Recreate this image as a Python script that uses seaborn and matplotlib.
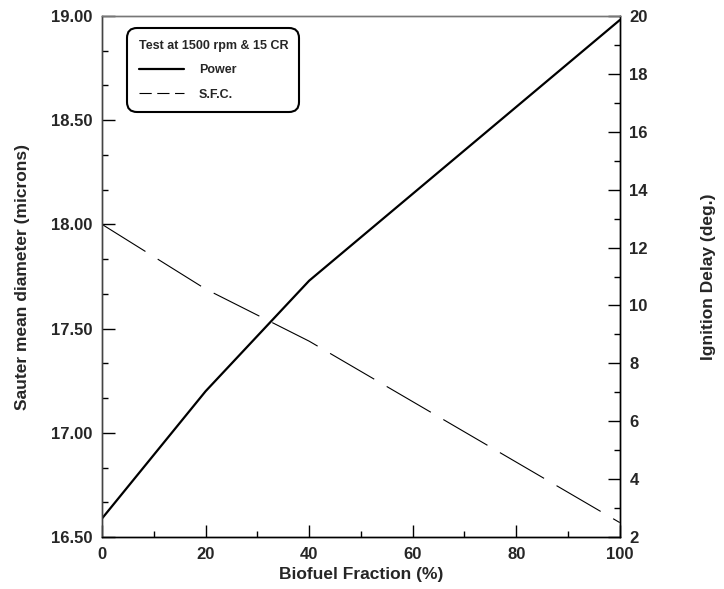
import matplotlib
matplotlib.use("Agg")
import matplotlib.pyplot as plt
from matplotlib.lines import Line2D
from matplotlib.ticker import MultipleLocator, FormatStrFormatter
import seaborn as sns
import pandas as pd

# Data
biofuel_fraction = [0, 20, 40, 100]
power_values = [16.59, 17.20, 17.73, 18.98]
sfc_values = [18.00, 17.69, 17.44, 16.57]
series_names = ["Power", "S.F.C."]
legend_title = "Test at 1500 rpm & 15 CR"

sns.set_theme(style="white")
plt.rcParams['font.family'] = ['Liberation Sans', 'DejaVu Sans']
plt.rcParams['font.weight'] = 'bold'

fig = plt.figure(figsize=(7.24, 5.89), dpi=100)
ax = fig.add_axes([0.141, 0.088, 0.715, 0.885])

df_power = pd.DataFrame({"x": biofuel_fraction, "y": power_values})
df_sfc = pd.DataFrame({"x": biofuel_fraction, "y": sfc_values})

sns.lineplot(data=df_power, x="x", y="y", ax=ax, color="black", lw=1.6)
sns.lineplot(data=df_sfc, x="x", y="y", ax=ax, color="black", lw=0.8)
ax.lines[1].set_dashes((46, 13))

ax.set_xlim(0, 100)
ax.set_ylim(16.5, 19.0)
ax.xaxis.set_major_locator(MultipleLocator(20))
ax.xaxis.set_minor_locator(MultipleLocator(10))
ax.yaxis.set_major_locator(MultipleLocator(0.5))
ax.yaxis.set_minor_locator(MultipleLocator(0.5 / 3))
ax.yaxis.set_major_formatter(FormatStrFormatter('%.2f'))

ax.tick_params(axis='both', which='major', direction='in', length=9, width=1, labelsize=12, color='black')
ax.tick_params(axis='both', which='minor', direction='in', length=4.5, width=1, color='black')
ax.tick_params(axis='x', which='major', pad=7)
ax.tick_params(axis='y', which='major', pad=7)
ax.tick_params(axis='x', which='both', top=False, bottom=True)
ax.tick_params(axis='y', which='both', left=True, right=False)
for lab in ax.get_xticklabels() + ax.get_yticklabels():
    lab.set_fontweight('bold')

ax.set_xlabel("Biofuel Fraction (%)", fontsize=12.5, fontweight='bold', labelpad=4)
ax.set_ylabel("Sauter mean diameter (microns)", fontsize=12.5, fontweight='bold', labelpad=15)

ax2 = ax.twinx()
ax2.set_ylim(2, 20)
ax2.yaxis.set_major_locator(MultipleLocator(2))
ax2.yaxis.set_minor_locator(MultipleLocator(1))
ax2.tick_params(axis='y', which='major', direction='in', length=9, width=1, labelsize=12, color='black', pad=7)
ax2.tick_params(axis='y', which='minor', direction='in', length=4.5, width=1, color='black')
for lab in ax2.get_yticklabels():
    lab.set_fontweight('bold')
ax2.set_ylabel("Ignition Delay (deg.)", fontsize=12.5, fontweight='bold', rotation=90, labelpad=38)

for a in (ax, ax2):
    for s in a.spines.values():
        s.set_color('black')
        s.set_linewidth(1.0)
    a.spines['top'].set_color('#777777')
    a.spines['left'].set_color('#444444')

handles = [Line2D([0], [0], color='black', lw=1.6),
           Line2D([0], [0], color='black', lw=0.8, dashes=(11, 5))]
leg = ax.legend(handles, series_names, title=legend_title, loc='upper left',
                bbox_to_anchor=(0.037, 0.988), frameon=True, fancybox=True,
                fontsize=9, title_fontsize=9, handlelength=3.6, handletextpad=1.2,
                labelspacing=1.0, borderpad=0.9, alignment='left')
leg.get_title().set_fontweight('bold')
for t in leg.get_texts():
    t.set_fontweight('bold')
frame = leg.get_frame()
frame.set_edgecolor('black')
frame.set_linewidth(1.5)
frame.set_boxstyle('round,pad=0,rounding_size=0.8')
frame.set_alpha(1)

fig.savefig("out.png", dpi=100)
